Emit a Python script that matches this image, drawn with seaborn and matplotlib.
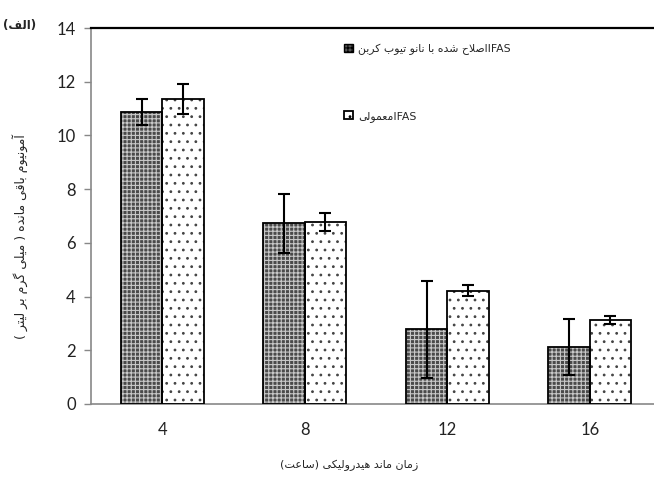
import matplotlib
matplotlib.use("Agg")
import matplotlib.pyplot as plt
import matplotlib.patches as mpatches
import numpy as np
import pandas as pd
import seaborn as sns

# ---------------- data ----------------
hrt_labels = ["4", "8", "12", "16"]
series_names = ["IFAS اصلاح شده با نانو تیوب کربن", "IFAS معمولی"]
cnt_values = [10.88, 6.73, 2.78, 2.11]
cnt_errors = [0.49, 1.10, 1.80, 1.04]
plain_values = [11.34, 6.77, 4.22, 3.13]
plain_errors = [0.56, 0.34, 0.21, 0.16]
y_ticks = [0, 2, 4, 6, 8, 10, 12, 14]

# ---------------- minimal Arabic/Persian shaping ----------------
FORMS = {
    '\u0627': ('\uFE8D', '\uFE8E', None, None),
    '\u0622': ('\uFE81', '\uFE82', None, None),
    '\u0628': ('\uFE8F', '\uFE90', '\uFE91', '\uFE92'),
    '\u062A': ('\uFE95', '\uFE96', '\uFE97', '\uFE98'),
    '\u062D': ('\uFEA1', '\uFEA2', '\uFEA3', '\uFEA4'),
    '\u062F': ('\uFEA9', '\uFEAA', None, None),
    '\u0631': ('\uFEAD', '\uFEAE', None, None),
    '\u0632': ('\uFEAF', '\uFEB0', None, None),
    '\u0633': ('\uFEB1', '\uFEB2', '\uFEB3', '\uFEB4'),
    '\u0634': ('\uFEB5', '\uFEB6', '\uFEB7', '\uFEB8'),
    '\u0635': ('\uFEB9', '\uFEBA', '\uFEBB', '\uFEBC'),
    '\u0639': ('\uFEC9', '\uFECA', '\uFECB', '\uFECC'),
    '\u0641': ('\uFED1', '\uFED2', '\uFED3', '\uFED4'),
    '\u0642': ('\uFED5', '\uFED6', '\uFED7', '\uFED8'),
    '\u0644': ('\uFEDD', '\uFEDE', '\uFEDF', '\uFEE0'),
    '\u0645': ('\uFEE1', '\uFEE2', '\uFEE3', '\uFEE4'),
    '\u0646': ('\uFEE5', '\uFEE6', '\uFEE7', '\uFEE8'),
    '\u0647': ('\uFEE9', '\uFEEA', '\uFEEB', '\uFEEC'),
    '\u0648': ('\uFEED', '\uFEEE', None, None),
    '\u06CC': ('\uFBFC', '\uFBFD', '\uFBFE', '\uFBFF'),
    '\u06A9': ('\uFB8E', '\uFB8F', '\uFB90', '\uFB91'),
    '\u06AF': ('\uFB92', '\uFB93', '\uFB94', '\uFB95'),
}
LAM_ALEF = {'\u0627': ('\uFEFB', '\uFEFC'), '\u0622': ('\uFEF5', '\uFEF6')}


def _dual(c):
    return c in FORMS and FORMS[c][2] is not None


def shape(s):
    out, i = [], 0
    while i < len(s):
        c = s[i]
        if c not in FORMS:
            out.append(c)
            i += 1
            continue
        pj = i > 0 and _dual(s[i - 1])
        if c == '\u0644' and i + 1 < len(s) and s[i + 1] in LAM_ALEF:
            lig = LAM_ALEF[s[i + 1]]
            out.append(lig[1] if pj else lig[0])
            i += 2
            continue
        nj = _dual(c) and i + 1 < len(s) and s[i + 1] in FORMS
        f = FORMS[c]
        out.append(f[3] if (pj and nj) else f[1] if pj else f[2] if nj else f[0])
        i += 1
    return ''.join(out)


def rtl(s):
    swap = {'(': ')', ')': '('}
    return ''.join(swap.get(ch, ch) for ch in reversed(shape(s)))


def mixed(label):
    latin, fa = label.split(' ', 1)
    return rtl(fa) + latin


# ---------------- figure ----------------
sns.set_style("white")
plt.rcParams['font.family'] = ['Lato', 'DejaVu Sans']
plt.rcParams['hatch.linewidth'] = 0.8

fig = plt.figure(figsize=(6.54, 4.8), dpi=100)
ax = fig.add_axes([91 / 654, 76 / 480, 570 / 654, 376 / 480])

df = pd.DataFrame({
    "hrt": hrt_labels * 2,
    "value": cnt_values + plain_values,
    "series": [series_names[0]] * 4 + [series_names[1]] * 4,
})
sns.barplot(data=df, x="hrt", y="value", hue="series", order=hrt_labels,
            hue_order=series_names, width=0.58, errorbar=None,
            palette=["#666666", "white"], legend=False, ax=ax)

errs = [cnt_errors, plain_errors]
styles = [
    dict(face="#4a4a4a", hatch_col="#c8c8c8", hatch="++++"),
    dict(face="white", hatch_col="#444444", hatch=".."),
]
bar_containers = list(ax.containers)
for k, cont in enumerate(bar_containers):
    st = styles[k]
    for p, e in zip(cont.patches, errs[k]):
        p.set_facecolor(st["face"])
        p.set_edgecolor(st["hatch_col"])
        p.set_hatch(st["hatch"])
        p.set_linewidth(0)
        ax.add_patch(mpatches.Rectangle(p.get_xy(), p.get_width(), p.get_height(),
                                        fill=False, edgecolor="black", lw=1.3, zorder=3))
        xc = p.get_x() + p.get_width() / 2
        ax.errorbar(xc, p.get_height(), yerr=e, color="black", lw=1.5,
                    capsize=4.5, capthick=1.5, zorder=5)

ax.set_ylim(0, 14)
ax.set_xlim(-0.5, 3.5)
ax.set_yticks(y_ticks)
ax.set_yticklabels([str(v) for v in y_ticks], fontsize=12, color="#222222")
ax.set_xticks(range(4))
ax.set_xticklabels(hrt_labels, fontsize=12, color="#222222")
ax.set_xticks([-0.5, 0.5, 1.5, 2.5, 3.5], minor=True)
ax.tick_params(axis="x", which="major", length=0, pad=13)
ax.tick_params(axis="x", which="minor", length=5, color="#888888", width=1)
ax.tick_params(axis="y", which="major", length=5, color="#888888", width=1, left=True, pad=6)

for side in ["left", "bottom"]:
    ax.spines[side].set_color("#888888")
    ax.spines[side].set_linewidth(1.2)
ax.spines["top"].set_color("black")
ax.spines["top"].set_linewidth(1.6)
ax.spines["right"].set_visible(False)
ax.set_xlabel("")
ax.set_ylabel("")

fa_font = ['DejaVu Sans']
fig.text(349 / 654, 1 - 465 / 480, rtl("زمان ماند هیدرولیکی (ساعت)"),
         ha="center", va="center", fontsize=8, family=fa_font)
fig.text(20 / 654, 1 - 237 / 480, rtl("آمونیوم باقی مانده ( میلی گرم بر لیتر )"),
         ha="center", va="center", rotation=90, fontsize=9, family=fa_font)
fig.text(20 / 654, 1 - 25 / 480, rtl("(الف)"), ha="center", va="center",
         fontsize=8.5, fontweight="bold", family=fa_font)

handles = [
    mpatches.Patch(facecolor="#555555", edgecolor="black", hatch="++++", lw=1),
    mpatches.Patch(facecolor="white", edgecolor="black", hatch="..", lw=1.3),
]
ax.legend(handles, [mixed(s) for s in series_names], loc="upper left",
          bbox_to_anchor=(0.427, 0.985), frameon=False, labelspacing=5.2,
          handlelength=0.8, handleheight=0.8, handletextpad=0.5,
          prop={"family": fa_font, "size": 7.8})

fig.savefig("out.png", dpi=100)
